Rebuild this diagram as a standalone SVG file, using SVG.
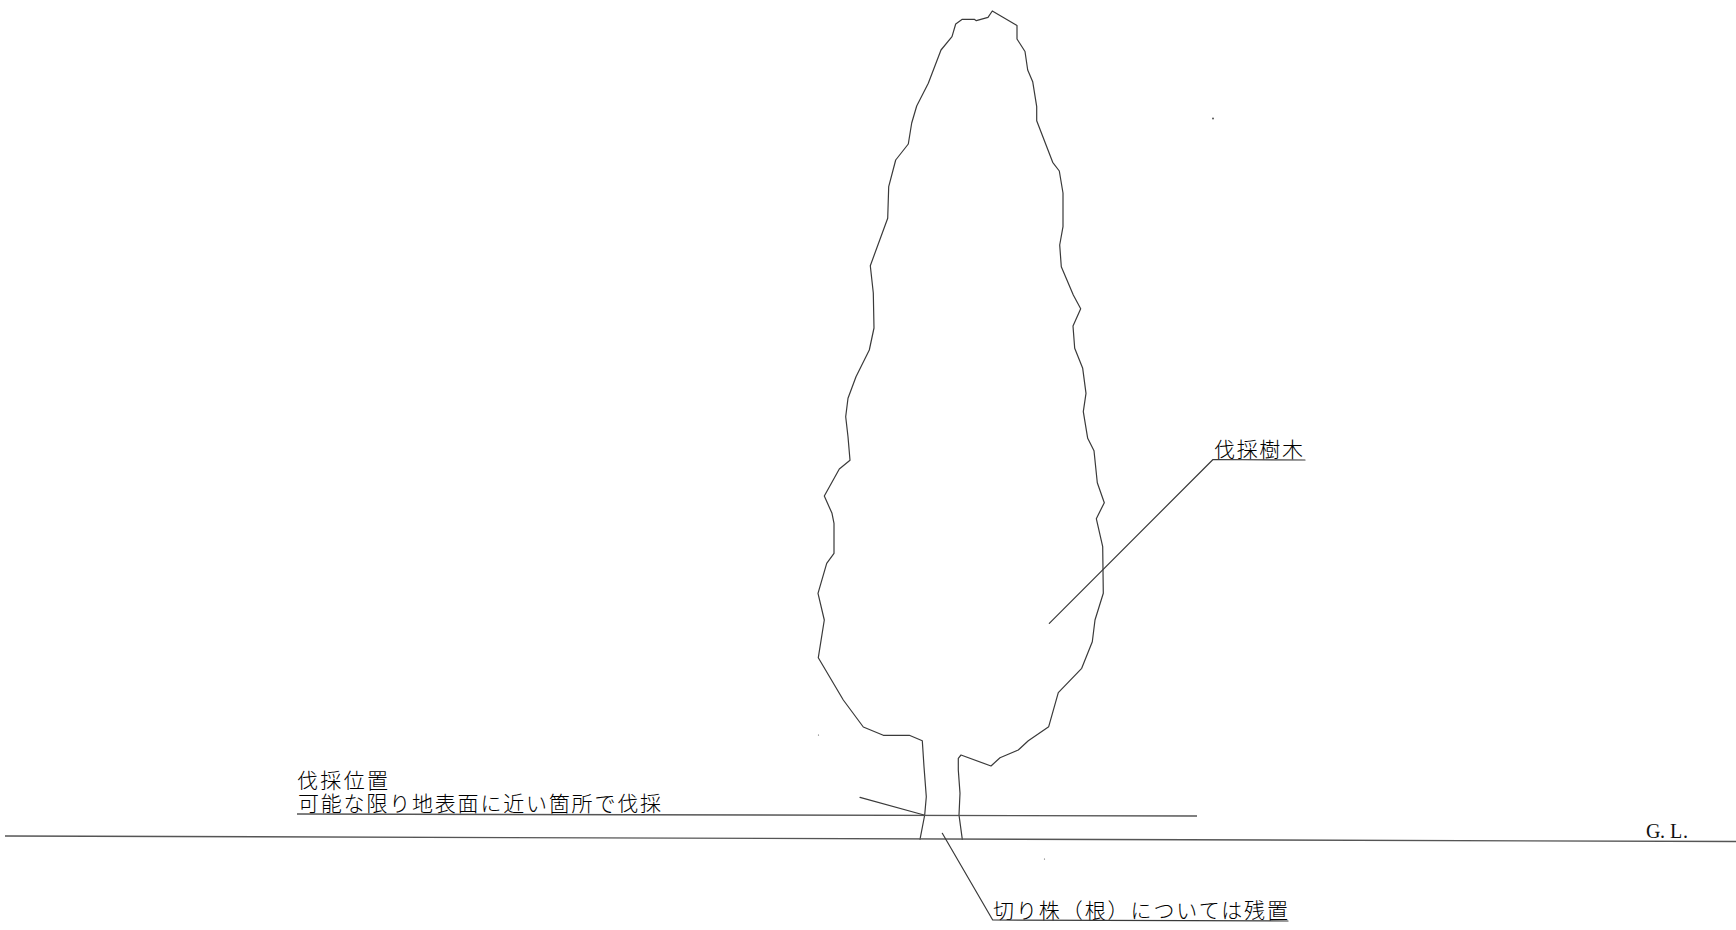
<svg xmlns="http://www.w3.org/2000/svg" width="1736" height="930" viewBox="0 0 1736 930">
<style>
.ln{fill:none;stroke:#3a3a3a;stroke-width:1.2;stroke-linejoin:round;stroke-linecap:round}
.gl{fill:none;stroke:#555;stroke-width:1.4}
.jp{font-family:"Noto Sans CJK JP","Noto Sans CJK SC",sans-serif;font-size:21px;font-weight:300;fill:#000}
.la{font-family:"Liberation Serif",serif;font-size:20px;fill:#111}
.sp{fill:#555}
</style>
<rect width="1736" height="930" fill="#fff"/>
<g id="tree">
<path class="ln" d="M962.3 839.3L959 815L960 793.3L958.3 770L958.3 758.3L961 755L991 766L1000 757.7L1018.3 750L1028.3 740.7L1048.7 726.7L1058.3 692.7L1081.7 668.3L1092.3 641.7L1095 620L1103.3 593.3L1102.7 546.7L1096.3 518.7L1104.3 502.7L1097.3 482.7L1094 450.7L1087.7 438.3L1083.3 411.7L1086 393.3L1082.7 368.3L1074.7 348.3L1073.3 330L1073 326L1080.7 308.7L1073.3 295L1061.3 266.7L1059.7 245L1063 226.7L1063 193L1059.3 171L1052.7 162.3L1036.7 120.7L1036.7 106.7L1032.7 81.7L1027.7 70L1025 51.5L1017 39L1017 25.6L992.3 11L988 17.3L976.3 20.7L974.3 19.3L962.3 19.3L955.7 24L952 36.7L941 50L928.3 83.3L916.7 106L911.7 123L908.3 144L895.7 160L888.7 186.7L887.7 218.3L870.3 265.7L873.3 293L874 328L869.3 350L856 376.7L848 398.3L845.7 416.7L848 436.7L850 460.3L839.3 469L824.3 496L832 513.3L834 523.3L834 553.3L826.7 563.3L818 593.3L824.3 620L818.3 657.7L843.3 700L863.3 727L883.3 735.3L909.3 735.3L922.3 740.7L924 766.7L926.3 796.7L924.7 815L920 839.3"/>
</g>
<g id="ground">
<path class="gl" d="M5 836L1736 841.5"/>
<text class="la" x="1646 1660 1665 1670 1683" y="838">G. L.</text>
</g>
<g id="cut-label">
<text class="jp" x="297" y="788" textLength="91" lengthAdjust="spacing">伐採位置</text>
<text class="jp" x="298" y="811" textLength="363" lengthAdjust="spacing">可能な限り地表面に近い箇所で伐採</text>
</g>
<g id="tree-label">
<text class="jp" x="1214" y="457" textLength="89" lengthAdjust="spacing">伐採樹木</text>
</g>
<g id="stump-label">
<text class="jp" x="993" y="918" textLength="295" lengthAdjust="spacing">切り株（根）については残置</text>
</g>
<g id="connectors">
<path class="gl" d="M297 814L1197 816"/>
<path class="ln" d="M860 797.3L924 815"/>
<path class="ln" d="M1049.3 623.3L1213 459.5L1305 460"/>
<path class="ln" d="M942.3 833.3L992.7 920L1288 921"/>
</g>
<g id="specks">
<circle class="sp" cx="1213" cy="118.5" r="1"/>
<circle class="sp" cx="818.5" cy="735" r=".6"/>
<circle class="sp" cx="1044.5" cy="859" r=".6"/>
</g>
</svg>
